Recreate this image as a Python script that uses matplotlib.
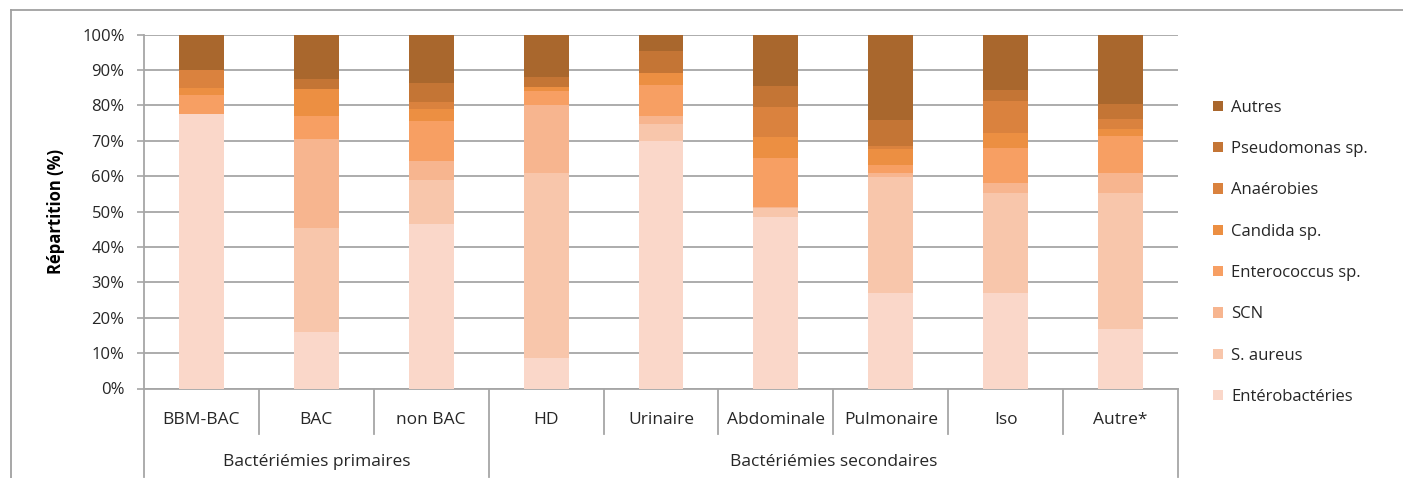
import matplotlib
matplotlib.use("Agg")
import matplotlib.pyplot as plt
from matplotlib.lines import Line2D
from matplotlib.patches import Patch
import numpy as np

plt.rcParams['font.family'] = ['Open Sans', 'DejaVu Sans']

categories = ["BBM-BAC", "BAC", "non BAC", "HD", "Urinaire", "Abdominale",
              "Pulmonaire", "Iso", "Autre*"]
groups = ["Bactériémies primaires", "Bactériémies secondaires"]
group_sizes = [3, 6]

series_names = ["Entérobactéries", "S. aureus", "SCN", "Enterococcus sp.",
                "Candida sp.", "Anaérobies", "Pseudomonas sp.", "Autres"]

enterobacteries = [77.6, 15.9, 46.5, 8.7, 69.9, 48.4, 26.9, 26.9, 16.8]
s_aureus        = [0.0, 29.6, 12.4, 52.1, 4.8, 2.6, 33.0, 28.3, 38.4]
scn             = [0.0, 24.9, 5.3, 19.2, 2.4, 0.3, 1.0, 2.8, 5.7]
enterococcus    = [5.3, 6.7, 11.5, 4.2, 8.6, 13.8, 2.4, 10.0, 10.6]
candida         = [2.0, 7.6, 3.4, 1.0, 3.4, 6.1, 4.5, 4.3, 1.9]
anaerobies      = [5.2, 0.0, 1.9, 0.0, 0.0, 8.5, 0.8, 9.1, 2.8]
pseudomonas     = [0.0, 2.9, 5.3, 2.8, 6.3, 5.8, 7.2, 2.9, 4.3]
autres          = [10.0, 12.3, 13.8, 11.9, 4.6, 14.7, 24.3, 15.6, 19.5]

colors = ["#FAD7C9", "#F8C6AB", "#F7B58F", "#F79F63",
          "#EC8F42", "#DA823E", "#C47535", "#A9672D"]

series = [enterobacteries, s_aureus, scn, enterococcus, candida,
          anaerobies, pseudomonas, autres]

FS = 12
TXT = "#262626"

W, H = 1403, 478
fig = plt.figure(figsize=(W / 100, H / 100), dpi=100)
ax = fig.add_axes([144 / W, (H - 388.5) / H, (1178 - 144) / W, (388.5 - 34.7) / H])

x = np.arange(len(categories))
bottom = np.zeros(len(categories))
for name, vals, c in zip(series_names, series, colors):
    v = np.array(vals)
    ax.bar(x, v, bottom=bottom, width=0.39, color=c, label=name, zorder=3,
           linewidth=0)
    bottom += v

ax.set_xlim(-0.5, len(categories) - 0.5)
ax.set_ylim(0, 100)
ax.set_yticks(np.arange(0, 101, 10))
ax.set_yticklabels([f"{v}%" for v in range(0, 101, 10)], fontsize=FS, color=TXT)
ax.yaxis.grid(True, color="#A6A6A6", linewidth=1.3, zorder=0)
ax.tick_params(axis='y', direction='out', length=5, color="#A6A6A6", width=1.2, pad=9)
ax.set_xticks([])
for s in ["top", "right"]:
    ax.spines[s].set_visible(False)
for s in ["left", "bottom"]:
    ax.spines[s].set_color("#A6A6A6")
    ax.spines[s].set_linewidth(1.3)

ax.set_ylabel("Répartition (%)", fontsize=12, fontweight="bold", color="#000000", labelpad=12)

# Multi-level category axis
trans = ax.get_xaxis_transform()
ax_h_px = 388.5 - 34.7
def ypx(px_below):
    return -px_below / ax_h_px

for i, cat in enumerate(categories):
    ax.text(i, ypx(31), cat, transform=trans, ha="center", va="center",
            fontsize=12.5, color=TXT)

group_edges = np.concatenate([[0], np.cumsum(group_sizes)]) - 0.5
for b in range(len(categories) + 1):
    xb = b - 0.5
    if xb in group_edges:
        y_end = ypx(88)
    else:
        y_end = ypx(45)
    ax.add_line(Line2D([xb, xb], [0, y_end], transform=trans, color="#A6A6A6",
                       linewidth=1.3, clip_on=False))

for g, (a, b) in enumerate(zip(group_edges[:-1], group_edges[1:])):
    ax.text((a + b) / 2, ypx(74), groups[g], transform=trans, ha="center",
            va="center", fontsize=12.5, color=TXT)

# Legend (reversed order)
handles = [Patch(facecolor=c, edgecolor="none") for c in colors][::-1]
labels = series_names[::-1]
leg = fig.legend(handles, labels, loc="upper left",
                 bbox_to_anchor=(1206 / W, 1 - 93 / H), frameon=False,
                 fontsize=FS, handlelength=0.6, handleheight=0.6,
                 handletextpad=0.5, labelspacing=1.52, borderaxespad=0)
for t in leg.get_texts():
    t.set_color(TXT)

# Outer frame
fig.add_artist(Line2D([11 / W, 11 / W], [0, 1 - 10 / H], transform=fig.transFigure,
                      color="#A0A0A0", linewidth=1.3))
fig.add_artist(Line2D([11 / W, 1], [1 - 10 / H, 1 - 10 / H], transform=fig.transFigure,
                      color="#A0A0A0", linewidth=1.3))

fig.savefig("out.png", dpi=100)
